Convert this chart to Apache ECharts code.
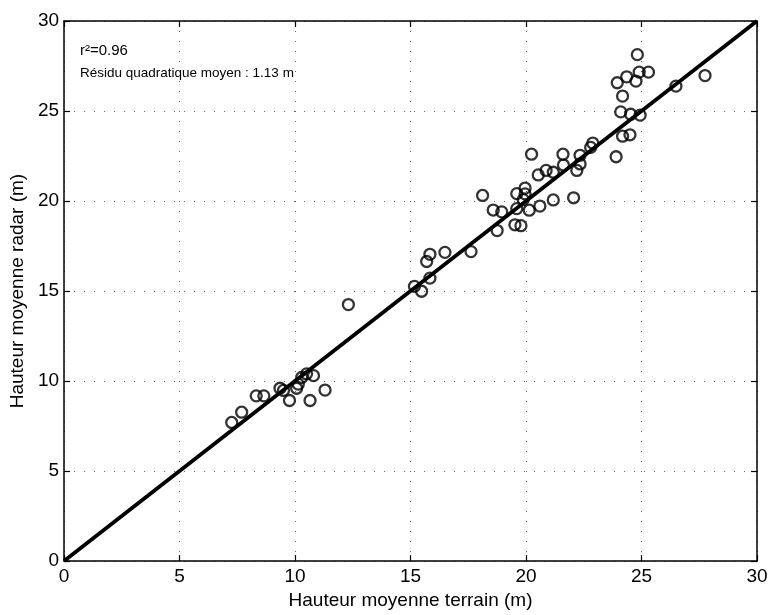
<!DOCTYPE html>
<html>
<head>
<meta charset="utf-8">
<script src="https://cdn.jsdelivr.net/npm/echarts@6/dist/echarts.min.js"></script>
<style>
  html, body { margin: 0; padding: 0; background: #fff; }
  #chart { width: 771px; height: 615px; }
</style>
</head>
<body>
<div id="chart"></div>
<script>
// Mean tree height: ground survey (terrain) vs radar estimate, in metres
const terrain = [
  7.26, 7.69, 8.32, 8.65, 9.5, 9.35, 9.76, 10.07, 10.14, 10.29, 10.5, 10.8, 10.65, 11.3,
  12.31, 15.17, 15.48, 15.84, 15.7, 15.84, 16.49, 17.62,
  18.12, 18.75, 18.58, 18.95, 19.52, 19.78, 19.6, 20.14, 20.6, 19.88, 19.6, 19.96, 19.96,
  21.18, 22.06, 20.24, 20.53, 20.87, 21.18, 21.6, 21.62, 22.2, 22.34, 22.34, 22.8, 22.89,
  23.9, 24.18, 24.5, 24.1, 24.53, 24.94, 24.18, 23.95, 24.36, 24.76, 24.9, 25.3, 24.82,
  26.49, 27.75
];
const radar = [
  7.7, 8.27, 9.18, 9.18, 9.48, 9.6, 8.92, 9.6, 9.83, 10.2, 10.4, 10.3, 8.92, 9.5,
  14.25, 15.26, 14.99, 15.72, 16.64, 17.04, 17.15, 17.19,
  20.31, 18.36, 19.5, 19.4, 18.68, 18.63, 19.58, 19.49, 19.72, 20.08, 20.41, 20.4, 20.72,
  20.06, 20.18, 22.6, 21.45, 21.7, 21.6, 22.6, 22.0, 21.7, 22.06, 22.54, 22.98, 23.22,
  22.46, 23.6, 23.68, 24.95, 24.82, 24.77, 25.83, 26.57, 26.9, 26.66, 27.16, 27.16, 28.13,
  26.38, 26.97
];
// Regression line end points
const fitX = [0, 30];
const fitY = [0, 30];
const axisTicks = [0, 5, 10, 15, 20, 25, 30];

const points = terrain.map((x, i) => [x, radar[i]]);
const fitLine = fitX.map((x, i) => [x, fitY[i]]);

const FONT = '"Liberation Sans", Arial, Helvetica, sans-serif';
const dotted = { show: true, lineStyle: { color: '#666', width: 1, type: [1, 9] } };
const frameLine = { show: true, onZero: false, lineStyle: { color: '#000', width: 1.5 } };
const inTick = { show: true, inside: true, length: 6, lineStyle: { color: '#000', width: 1.2 } };

const chart = echarts.init(document.getElementById('chart'), null, { renderer: 'canvas' });
chart.setOption({
  animation: false,
  backgroundColor: '#fff',
  grid: { left: 64, right: 14, top: 21, bottom: 50, containLabel: false },
  xAxis: [{
    type: 'value', min: axisTicks[0], max: axisTicks[axisTicks.length - 1], interval: 5,
    name: 'Hauteur moyenne terrain (m)', nameLocation: 'middle', nameGap: 27,
    nameTextStyle: { color: '#000', fontFamily: FONT, fontSize: 19 },
    axisLine: frameLine, axisTick: inTick,
    axisLabel: { color: '#000', fontFamily: FONT, fontSize: 19, margin: 6 },
    splitLine: dotted
  }, {
    type: 'value', position: 'top', min: 0, max: 30, interval: 5,
    axisLine: frameLine, axisTick: inTick,
    axisLabel: { show: false }, splitLine: { show: false }
  }],
  yAxis: [{
    type: 'value', min: axisTicks[0], max: axisTicks[axisTicks.length - 1], interval: 5,
    name: 'Hauteur moyenne radar (m)', nameLocation: 'middle', nameGap: 31,
    nameTextStyle: { color: '#000', fontFamily: FONT, fontSize: 19 },
    axisLine: frameLine, axisTick: inTick,
    axisLabel: { color: '#000', fontFamily: FONT, fontSize: 19, margin: 5 },
    splitLine: dotted
  }, {
    type: 'value', position: 'right', min: 0, max: 30, interval: 5,
    axisLine: frameLine, axisTick: inTick,
    axisLabel: { show: false }, splitLine: { show: false }
  }],
  series: [{
    type: 'scatter',
    data: points,
    symbol: 'circle',
    symbolSize: 11,
    itemStyle: { color: 'rgba(255,255,255,0)', borderColor: '#000', borderWidth: 2.3 },
    z: 3
  }, {
    type: 'line',
    data: fitLine,
    symbol: 'none',
    lineStyle: { color: '#000', width: 3.8 },
    z: 4
  }],
  graphic: [{
    type: 'text', left: 80, top: 43,
    style: { text: 'r²=0.96', fill: '#000', font: '15px ' + FONT }
  }, {
    type: 'text', left: 80, top: 66,
    style: { text: 'Résidu quadratique moyen : 1.13 m', fill: '#000', font: '13.5px ' + FONT }
  }]
});
</script>
</body>
</html>
